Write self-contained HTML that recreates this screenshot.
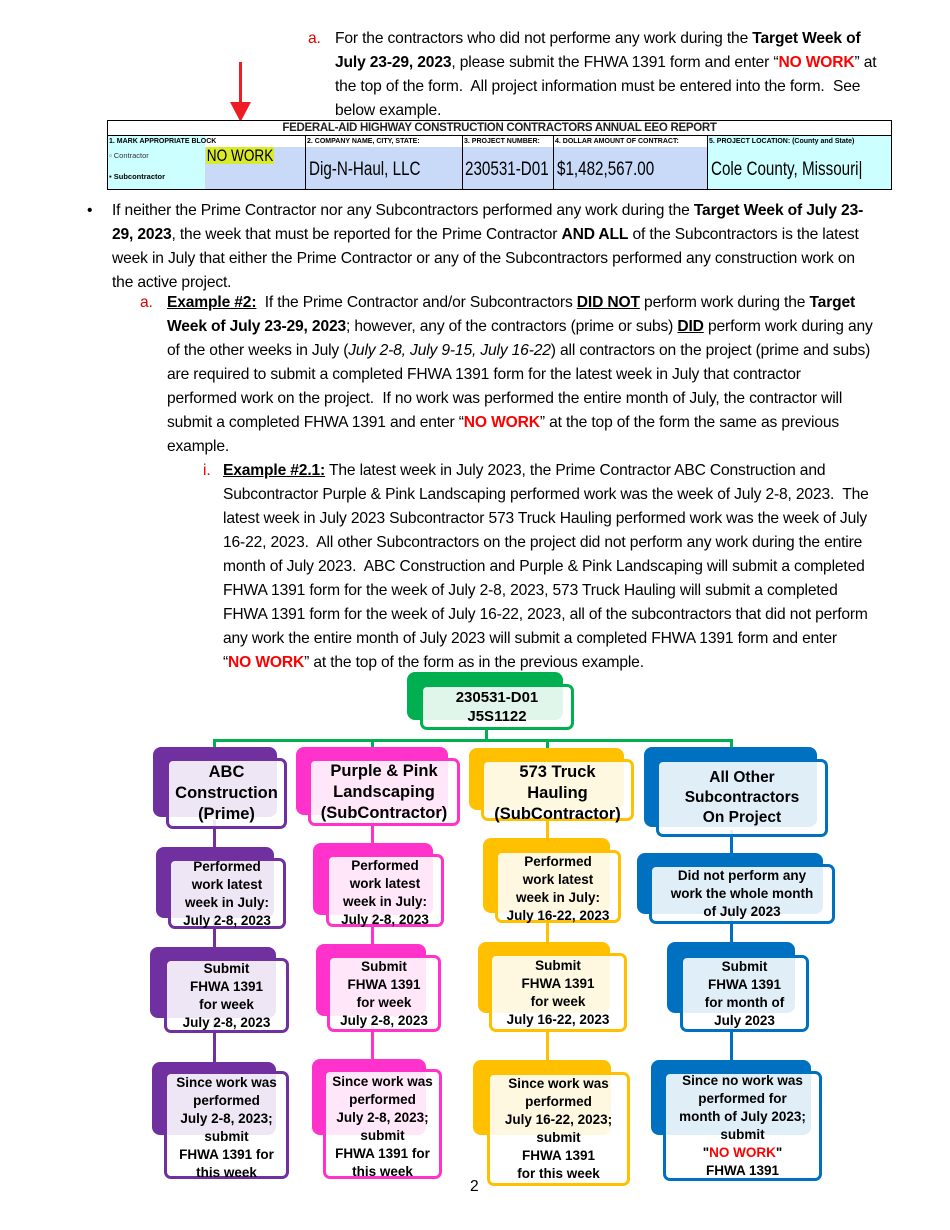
<!DOCTYPE html>
<html><head><meta charset="utf-8"><style>
*{margin:0;padding:0;box-sizing:border-box}
body{width:950px;height:1230px;background:#fff;position:relative;overflow:hidden;font-family:"Liberation Sans",Arial,sans-serif;color:#000}
.l{position:absolute;white-space:nowrap;font-size:15.6px;line-height:18px;letter-spacing:-0.15px}
.r{color:#e00000}
.rb{color:#ff0000;font-weight:bold}
u{text-decoration:underline}
.bk{position:absolute;border-radius:8px}
.fr{position:absolute;border-radius:7px;border:3px solid;background:rgba(255,255,255,0.88);display:flex;align-items:center;justify-content:center;text-align:center;font-weight:bold;font-size:13.5px;line-height:18px}
.big{font-size:16.5px;line-height:21px}
.ln{position:absolute}
.cell{position:absolute;font-family:"Liberation Sans",Arial,sans-serif;white-space:nowrap}
.n{transform-origin:0 0;transform:scaleX(0.8)}
</style></head><body>

<div class="l r" style="left:308px;top:30px">a.</div>
<div class="l" style="left:335px;top:30px">For the contractors who did not performe any work during the <b>Target Week of</b></div>
<div class="l" style="left:335px;top:54px"><b>July 23-29, 2023</b>, please submit the FHWA 1391 form and enter “<span class="rb">NO WORK</span>” at</div>
<div class="l" style="left:335px;top:78px">the top of the form.&nbsp; All project information must be entered into the form.&nbsp; See</div>
<div class="l" style="left:335px;top:102px">below example.</div>

<div style="position:absolute;left:208px;top:56px;width:56px;height:66px;background:#fff"></div>
<svg style="position:absolute;left:225px;top:58px" width="32" height="66"><polygon points="14,4 17,4 17,44 26,44 15.5,64 5,44 14,44" fill="#ee1c24"/></svg>

<div style="position:absolute;left:107px;top:120px;width:785px;height:70px;border:1.5px solid #000;background:#fff"></div>
<div class="cell" style="left:107px;top:121px;width:785px;height:14px;font-size:11.5px;text-align:center;line-height:14px;letter-spacing:-0.3px;font-weight:bold;color:#222">FEDERAL-AID HIGHWAY CONSTRUCTION CONTRACTORS ANNUAL EEO REPORT</div>
<div style="position:absolute;left:107px;top:135px;width:785px;height:1px;background:#000"></div>
<div style="position:absolute;left:108px;top:136px;width:97px;height:53px;background:#cff"></div>
<div style="position:absolute;left:205px;top:147px;width:100px;height:42px;background:#c9daf8"></div>
<div style="position:absolute;left:306px;top:147px;width:156px;height:42px;background:#c9daf8"></div>
<div style="position:absolute;left:463px;top:147px;width:90px;height:42px;background:#c9daf8"></div>
<div style="position:absolute;left:554px;top:147px;width:153px;height:42px;background:#c9daf8"></div>
<div style="position:absolute;left:708px;top:136px;width:183px;height:53px;background:#cff"></div>
<div style="position:absolute;left:305px;top:136px;width:1px;height:54px;background:#000"></div>
<div style="position:absolute;left:462px;top:136px;width:1px;height:54px;background:#000"></div>
<div style="position:absolute;left:553px;top:136px;width:1px;height:54px;background:#000"></div>
<div style="position:absolute;left:707px;top:136px;width:1px;height:54px;background:#000"></div>
<div class="cell" style="left:109px;top:138px;font-size:7px;line-height:8px;font-weight:bold">1. MARK APPROPRIATE BLOCK</div>
<div class="cell" style="left:307px;top:138px;font-size:7px;line-height:8px;font-weight:bold">2. COMPANY NAME, CITY, STATE:</div>
<div class="cell" style="left:464px;top:138px;font-size:7px;line-height:8px;font-weight:bold">3. PROJECT NUMBER:</div>
<div class="cell" style="left:555px;top:138px;font-size:7px;line-height:8px;font-weight:bold">4. DOLLAR AMOUNT OF CONTRACT:</div>
<div class="cell" style="left:709px;top:138px;font-size:7px;line-height:8px;font-weight:bold">5. PROJECT LOCATION: (County and State)</div>
<div class="cell" style="left:109px;top:151px;font-size:7.5px;color:#333">▫ Contractor</div>
<div class="cell" style="left:109px;top:172px;font-size:7.5px;font-weight:bold">▪ Subcontractor</div>
<div class="cell n" style="left:206px;top:147px;font-size:17px;line-height:17px;background:#d8ea2a;padding:0 1px">NO WORK</div>
<div class="cell n" style="left:309px;top:159px;font-size:19px">Dig-N-Haul, LLC</div>
<div class="cell n" style="left:465px;top:159px;font-size:19px">230531-D01</div>
<div class="cell n" style="left:557px;top:159px;font-size:19px">$1,482,567.00</div>
<div class="cell n" style="left:711px;top:159px;font-size:19px">Cole County, Missouri|</div>

<div class="l" style="left:87px;top:202px">•</div>
<div class="l" style="left:112px;top:202px">If neither the Prime Contractor nor any Subcontractors performed any work during the <b>Target Week of July 23-</b></div>
<div class="l" style="left:112px;top:226px"><b>29, 2023</b>, the week that must be reported for the Prime Contractor <b>AND ALL</b> of the Subcontractors is the latest</div>
<div class="l" style="left:112px;top:250px">week in July that either the Prime Contractor or any of the Subcontractors performed any construction work on</div>
<div class="l" style="left:112px;top:274px">the active project.</div>

<div class="l r" style="left:140px;top:294px">a.</div>
<div class="l" style="left:167px;top:294px"><b><u>Example #2:</u></b>&nbsp; If the Prime Contractor and/or Subcontractors <b><u>DID NOT</u></b> perform work during the <b>Target</b></div>
<div class="l" style="left:167px;top:318px"><b>Week of July 23-29, 2023</b>; however, any of the contractors (prime or subs) <b><u>DID</u></b> perform work during any</div>
<div class="l" style="left:167px;top:342px">of the other weeks in July (<i>July 2-8, July 9-15, July 16-22</i>) all contractors on the project (prime and subs)</div>
<div class="l" style="left:167px;top:366px">are required to submit a completed FHWA 1391 form for the latest week in July that contractor</div>
<div class="l" style="left:167px;top:390px">performed work on the project.&nbsp; If no work was performed the entire month of July, the contractor will</div>
<div class="l" style="left:167px;top:414px">submit a completed FHWA 1391 and enter “<span class="rb">NO WORK</span>” at the top of the form the same as previous</div>
<div class="l" style="left:167px;top:438px">example.</div>

<div class="l r" style="left:203px;top:462px">i.</div>
<div class="l" style="left:223px;top:462px"><b><u>Example #2.1:</u></b> The latest week in July 2023, the Prime Contractor ABC Construction and</div>
<div class="l" style="left:223px;top:486px">Subcontractor Purple &amp; Pink Landscaping performed work was the week of July 2-8, 2023.&nbsp; The</div>
<div class="l" style="left:223px;top:510px">latest week in July 2023 Subcontractor 573 Truck Hauling performed work was the week of July</div>
<div class="l" style="left:223px;top:534px">16-22, 2023.&nbsp; All other Subcontractors on the project did not perform any work during the entire</div>
<div class="l" style="left:223px;top:558px">month of July 2023.&nbsp; ABC Construction and Purple &amp; Pink Landscaping will submit a completed</div>
<div class="l" style="left:223px;top:582px">FHWA 1391 form for the week of July 2-8, 2023, 573 Truck Hauling will submit a completed</div>
<div class="l" style="left:223px;top:606px">FHWA 1391 form for the week of July 16-22, 2023, all of the subcontractors that did not perform</div>
<div class="l" style="left:223px;top:630px">any work the entire month of July 2023 will submit a completed FHWA 1391 form and enter</div>
<div class="l" style="left:223px;top:654px">“<span class="rb">NO WORK</span>” at the top of the form as in the previous example.</div>

<div class="ln" style="left:485px;top:728px;width:3px;height:14px;background:#00b050"></div>
<div class="ln" style="left:213px;top:739px;width:520px;height:3px;background:#00b050"></div>
<div class="ln" style="left:213px;top:739px;width:3px;height:12px;background:#00b050"></div>
<div class="ln" style="left:371px;top:739px;width:3px;height:12px;background:#00b050"></div>
<div class="ln" style="left:546px;top:739px;width:3px;height:12px;background:#00b050"></div>
<div class="ln" style="left:730px;top:739px;width:3px;height:12px;background:#00b050"></div>
<div class="ln" style="left:213px;top:820px;width:3px;height:260px;background:#7030a0"></div>
<div class="ln" style="left:371px;top:820px;width:3px;height:260px;background:#ff33cc"></div>
<div class="ln" style="left:546px;top:815px;width:3px;height:265px;background:#ffc000"></div>
<div class="ln" style="left:730px;top:830px;width:3px;height:250px;background:#0070c0"></div>

<div class="bk" style="left:407px;top:672px;width:156px;height:48px;background:#00b050"></div>
<div class="fr big" style="left:420px;top:684px;width:154px;height:46px;border-color:#00b050;font-size:15px;line-height:19px"><div>230531-D01<br>J5S1122</div></div>

<div class="bk" style="left:153px;top:747px;width:124px;height:70px;background:#7030a0"></div>
<div class="fr big" style="left:166px;top:758px;width:121px;height:71px;border-color:#7030a0"><div>ABC<br>Construction<br>(Prime)</div></div>
<div class="bk" style="left:156px;top:847px;width:118px;height:71px;background:#7030a0"></div>
<div class="fr" style="left:168px;top:858px;width:118px;height:71px;border-color:#7030a0"><div>Performed<br>work latest<br>week in July:<br>July 2-8, 2023</div></div>
<div class="bk" style="left:150px;top:947px;width:126px;height:71px;background:#7030a0"></div>
<div class="fr" style="left:164px;top:958px;width:125px;height:75px;border-color:#7030a0"><div>Submit<br>FHWA 1391<br>for week<br>July 2-8, 2023</div></div>
<div class="bk" style="left:152px;top:1062px;width:124px;height:73px;background:#7030a0"></div>
<div class="fr" style="left:164px;top:1071px;width:125px;height:108px;border-color:#7030a0;align-items:flex-start"><div>Since work was<br>performed<br>July 2-8, 2023;<br>submit<br>FHWA 1391 for<br>this week</div></div>

<div class="bk" style="left:296px;top:747px;width:152px;height:68px;background:#ff33cc"></div>
<div class="fr big" style="left:308px;top:758px;width:152px;height:68px;border-color:#ff33cc"><div>Purple &amp; Pink<br>Landscaping<br>(SubContractor)</div></div>
<div class="bk" style="left:313px;top:843px;width:120px;height:72px;background:#ff33cc"></div>
<div class="fr" style="left:326px;top:854px;width:118px;height:73px;border-color:#ff33cc;align-items:flex-start"><div>Performed<br>work latest<br>week in July:<br>July 2-8, 2023</div></div>
<div class="bk" style="left:316px;top:944px;width:110px;height:72px;background:#ff33cc"></div>
<div class="fr" style="left:327px;top:955px;width:114px;height:77px;border-color:#ff33cc"><div>Submit<br>FHWA 1391<br>for week<br>July 2-8, 2023</div></div>
<div class="bk" style="left:312px;top:1059px;width:114px;height:76px;background:#ff33cc"></div>
<div class="fr" style="left:323px;top:1069px;width:119px;height:110px;border-color:#ff33cc;align-items:flex-start;padding-top:1px"><div>Since work was<br>performed<br>July 2-8, 2023;<br>submit<br>FHWA 1391 for<br>this week</div></div>

<div class="bk" style="left:469px;top:748px;width:155px;height:62px;background:#ffc000"></div>
<div class="fr big" style="left:481px;top:759px;width:153px;height:62px;border-color:#ffc000;align-items:flex-start"><div>573 Truck<br>Hauling<br>(SubContractor)</div></div>
<div class="bk" style="left:483px;top:838px;width:127px;height:75px;background:#ffc000"></div>
<div class="fr" style="left:495px;top:850px;width:126px;height:73px;border-color:#ffc000;align-items:flex-start"><div>Performed<br>work latest<br>week in July:<br>July 16-22, 2023</div></div>
<div class="bk" style="left:478px;top:942px;width:132px;height:71px;background:#ffc000"></div>
<div class="fr" style="left:489px;top:953px;width:138px;height:79px;border-color:#ffc000"><div>Submit<br>FHWA 1391<br>for week<br>July 16-22, 2023</div></div>
<div class="bk" style="left:473px;top:1060px;width:138px;height:75px;background:#ffc000"></div>
<div class="fr" style="left:487px;top:1072px;width:143px;height:114px;border-color:#ffc000"><div>Since work was<br>performed<br>July 16-22, 2023;<br>submit<br>FHWA 1391<br>for this week</div></div>

<div class="bk" style="left:644px;top:747px;width:173px;height:80px;background:#0070c0"></div>
<div class="fr big" style="left:656px;top:759px;width:172px;height:78px;border-color:#0070c0;font-size:15.5px;line-height:20px"><div>All Other<br>Subcontractors<br>On Project</div></div>
<div class="bk" style="left:637px;top:853px;width:186px;height:61px;background:#0070c0"></div>
<div class="fr" style="left:649px;top:864px;width:186px;height:60px;border-color:#0070c0"><div>Did not perform any<br>work the whole month<br>of July 2023</div></div>
<div class="bk" style="left:667px;top:942px;width:128px;height:71px;background:#0070c0"></div>
<div class="fr" style="left:680px;top:955px;width:129px;height:77px;border-color:#0070c0"><div>Submit<br>FHWA 1391<br>for month of<br>July 2023</div></div>
<div class="bk" style="left:651px;top:1060px;width:160px;height:75px;background:#0070c0"></div>
<div class="fr" style="left:663px;top:1071px;width:159px;height:110px;border-color:#0070c0"><div>Since no work was<br>performed for<br>month of July 2023;<br>submit<br>"<span class="rb">NO WORK</span>"<br>FHWA 1391</div></div>

<div class="l" style="left:470px;top:1178px">2</div>
</body></html>
